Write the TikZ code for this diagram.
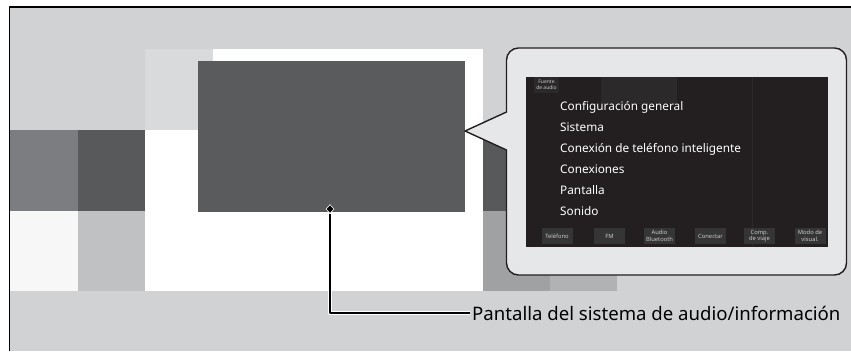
\documentclass[tikz,border=0pt]{standalone}
\usepackage{fontspec}
\setmainfont{Noto Sans}
\usetikzlibrary{arrows.meta, calc, positioning, shapes.geometric}
\definecolor{pan-bg}{HTML}{D1D2D4}
\definecolor{pan-light}{HTML}{D9DADC}
\definecolor{pan-dark}{HTML}{58595B}
\definecolor{pan-mid}{HTML}{7C7D80}
\definecolor{pan-pale}{HTML}{F7F7F7}
\definecolor{pan-soft}{HTML}{C0C1C3}
\definecolor{pan-grey}{HTML}{A0A1A3}
\definecolor{pan-greysoft}{HTML}{B1B2B4}
\definecolor{pan-screen}{HTML}{5A5B5D}
\definecolor{pan-ink}{HTML}{231F20}
\definecolor{pan-bubble}{HTML}{E6E7E8}
\definecolor{pan-faint}{HTML}{2B292A}
\definecolor{pan-key}{HTML}{363536}
\definecolor{pan-keytext}{HTML}{C9C9C9}
\tikzset{
  menuitem/.style={anchor=base west, text=white, inner sep=0pt, font=\fontsize{11.8}{13}\selectfont},
  softkey/.style={fill=pan-key, text=pan-keytext, minimum width=31, minimum height=16,
    inner sep=0pt, align=center, font=\fontsize{5.8}{6.4}\selectfont},
}

\begin{document}
\begin{tikzpicture}[x=1pt, y=-1pt, >=Stealth, line join=round]
  \useasboundingbox (0,0) rectangle (851,351);
  % baggrund
  \fill[pan-bg] (9.5,7) rectangle (851,351);
  \draw[line width=1.2] (9.5,351) -- (9.5,7) -- (851,7);
  % blokke
  \fill[pan-light] (145,49) rectangle (213,130);
  \fill[white] (213,49) rectangle (483,130);
  \fill[white] (145,130) rectangle (483,291);
  \fill[pan-mid] (10.1,130) rectangle (78,211);
  \fill[pan-dark] (78,130) rectangle (145,211);
  \fill[pan-pale] (10.1,211) rectangle (78,291);
  \fill[pan-soft] (78,211) rectangle (145,291);
  \fill[pan-dark] (483,130) rectangle (617,211);
  \fill[pan-grey] (483,211) rectangle (550,291);
  \fill[pan-greysoft] (550,211) rectangle (617,291);
  % skærm
  \node[fill=pan-screen, minimum width=267, minimum height=151, inner sep=0pt] (screen) at (331.5,136.5) {};
  \coordinate (tip) at (465,131);
  % boble
  \draw[pan-ink, line width=1.4, fill=pan-bubble] (506.5,80) -- (506.5,112) -- (tip) -- (506.5,150)
    -- (506.5,160) [rounded corners=12] -- (506.5,275) -- (846.5,275) -- (846.5,48) -- (506.5,48) -- cycle;
  \node[fill=pan-ink, minimum width=302, minimum height=170, inner sep=0pt] (disp) at (677,162) {};
  \fill[pan-faint] (601,77) rectangle (677,104);
  \draw[pan-faint, line width=0.8] (752,77) -- (752,247);
  \node[fill=pan-faint, text=pan-keytext, minimum width=25, minimum height=16, inner sep=0pt,
    align=center, font=\fontsize{5}{5.6}\selectfont] (source) at (546.5,85) {Fuente\\de audio};
  % menu
  \node[menuitem] (general) at (560,110.3) {Configuración general};
  \node[menuitem] (system) at (560,131.3) {Sistema};
  \node[menuitem] (phone) at (560,152.3) {Conexión de teléfono inteligente};
  \node[menuitem] (links) at (560,173.3) {Conexiones};
  \node[menuitem] (display) at (560,194.3) {Pantalla};
  \node[menuitem] (sound) at (560,215.3) {Sonido};
  % taster
  \node[softkey] (tel) at (557,236) {Teléfono};
  \node[softkey] (fm) at (609.5,236) {FM};
  \node[softkey] (bt) at (659.5,236) {Audio\\Bluetooth};
  \node[softkey] (connect) at (710.5,236) {Conectar};
  \node[softkey] (trip) at (759.5,236) {Comp.\\de viaje};
  \node[softkey] (view) at (810,236) {Modo de\\visual.};
  % forklaring
  \node[anchor=west, inner sep=2pt, font=\fontsize{18.6}{22}\selectfont] (lbl) at (470,313)
    {Pantalla del sistema de audio/información};
  \node[diamond, fill=black, draw=white, line width=0.6, inner sep=0pt, minimum width=8,
    minimum height=9] (dia) at (330,209) {};
  \draw[white, line width=4] (dia.south) |- (lbl.west);
  \draw[black, line width=1.8] (dia.south) |- (lbl.west);
\end{tikzpicture}
\end{document}
